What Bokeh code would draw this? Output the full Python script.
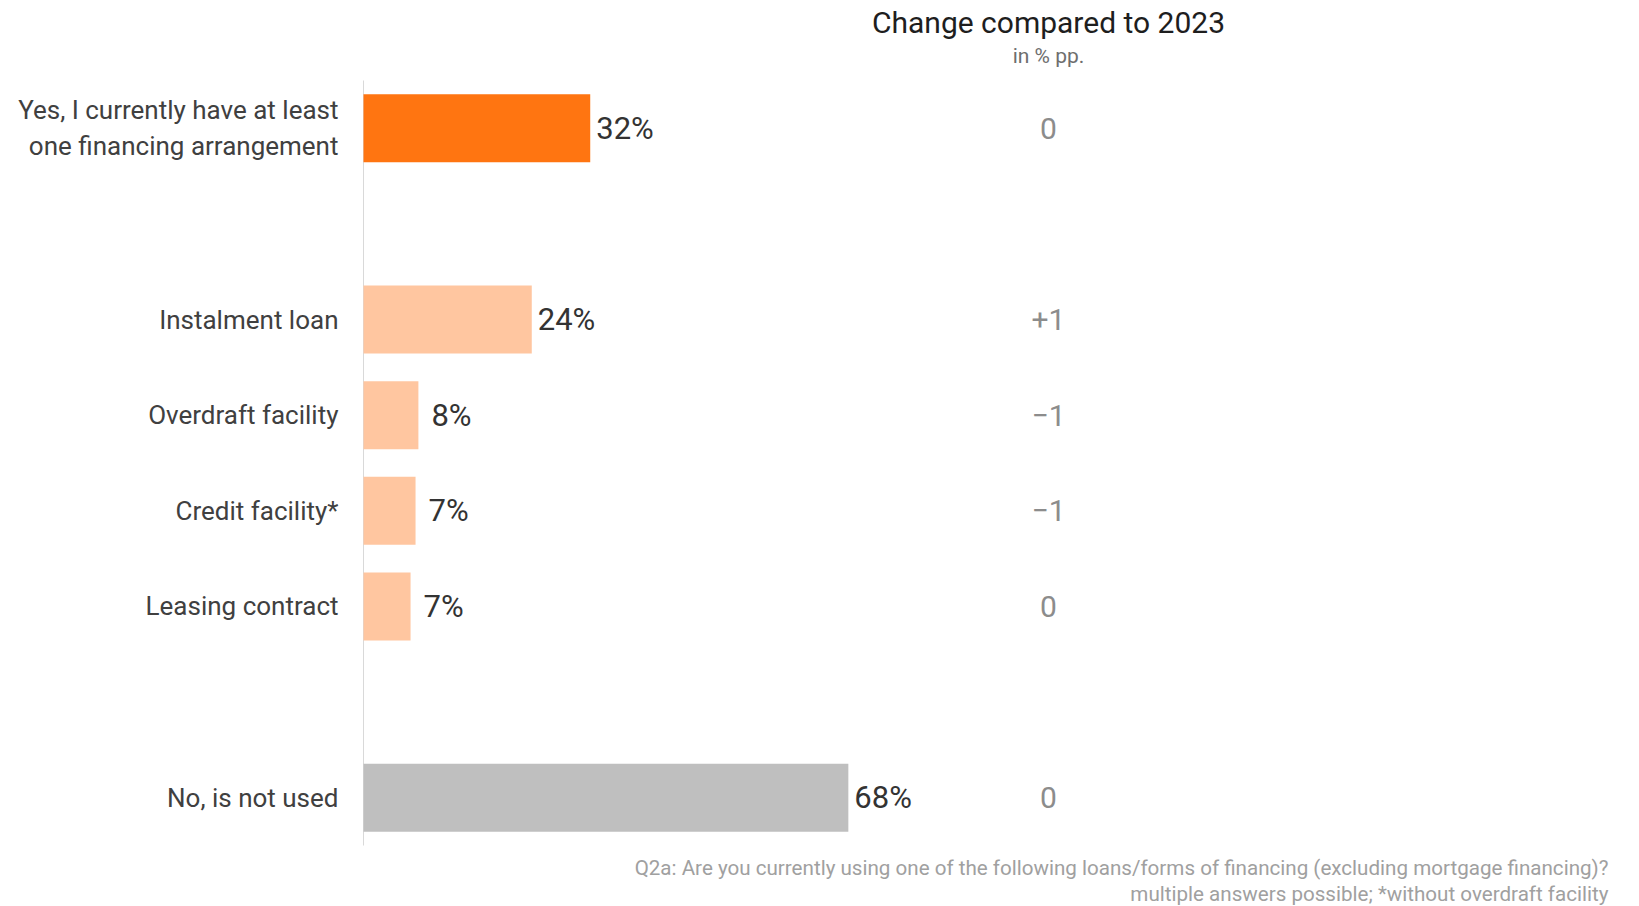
from bokeh.plotting import figure
from bokeh.models import Range1d, FixedTicker, ColumnDataSource
from bokeh.embed import file_html
from bokeh.resources import INLINE
from bokeh.core.properties import value

# ---------------- data ----------------
categories = [
    "Yes, I currently have at least\none financing arrangement",
    "Instalment loan",
    "Overdraft facility",
    "Credit facility*",
    "Leasing contract",
    "No, is not used",
]
groups = ["any", "types", "types", "types", "types", "none"]
shares = [31.8, 23.6, 7.7, 7.3, 6.6, 68.0]
share_labels = ["32%", "24%", "8%", "7%", "7%", "68%"]
changes = ["0", "+1", "\u22121", "\u22121", "0", "0"]

title_text = "Change compared to 2023"
subtitle_text = "in % pp."
note_lines = [
    "Q2a: Are you currently using one of the following loans/forms of financing (excluding mortgage financing)?",
    "multiple answers possible; *without overdraft facility",
]

# ---------------- styles / layout ----------------
bar_colors = ["#FF7511", "#FFC6A0", "#FFC6A0", "#FFC6A0", "#FFC6A0", "#BFBFBF"]
FONT = "Roboto"
W, H = 1639, 906
FRAME_LEFT, FRAME_RIGHT = 360, 1620       # plotting frame (full height)
ZERO_PX = 363                             # where the bars start
BARS_TOP, BARS_BOTTOM = 80, 845           # vertical extent of the bar area
PX_PER_PCT = 7.13
CHANGE_PX = 1048

positions = []
pos, prev = 0, None
for g in groups:
    if prev is not None:
        pos += 1 if g == prev else 2
    positions.append(pos)
    prev = g
n_slots = positions[-1] + 1
slot_px = (BARS_BOTTOM - BARS_TOP) / n_slots


def px2x(px):
    return (px - ZERO_PX) / PX_PER_PCT


def px2y(px):
    return -0.5 + (px - BARS_TOP) / slot_px


p = figure(
    width=W, height=H, output_backend="svg", toolbar_location=None,
    x_range=Range1d(px2x(FRAME_LEFT), px2x(FRAME_RIGHT)),
    y_range=Range1d(px2y(H), px2y(0)),
    x_axis_location=None,
    min_border_left=FRAME_LEFT, min_border_right=W - FRAME_RIGHT,
    min_border_top=0, min_border_bottom=0,
    title=None,
)
p.outline_line_color = None
p.grid.visible = False
p.background_fill_color = "white"
p.border_fill_color = "white"

yax = p.yaxis[0]
yax.ticker = FixedTicker(ticks=positions)
yax.major_label_overrides = {pp: c for pp, c in zip(positions, categories)}
yax.major_tick_line_color = None
yax.minor_tick_line_color = None
yax.major_tick_out = 0
yax.major_tick_in = 0
yax.major_label_standoff = 22
yax.axis_line_color = None
yax.major_label_text_font = FONT
yax.major_label_text_font_size = "26px"
yax.major_label_text_color = "#404040"

# category baseline (zero line) spanning the bar area
p.segment(x0=0, y0=-0.5, x1=0, y1=n_slots - 0.5, line_color="#D9D9D9", line_width=1)

offsets = [6 if v >= 10 else 13 for v in shares]
src = ColumnDataSource(dict(
    y=positions, right=shares, color=bar_colors,
    label=share_labels, change=changes, off=offsets,
))

p.hbar(y="y", left=0, right="right", height=0.71, source=src,
       fill_color="color", line_color=None)

p.text(x="right", y="y", text="label", x_offset="off", source=src,
       text_baseline="middle", text_align="left",
       text_font=value(FONT), text_font_size="31px", text_color="#333333")

p.text(x=px2x(CHANGE_PX), y="y", text="change", source=src,
       text_baseline="middle", text_align="center",
       text_font=value(FONT), text_font_size="30px", text_color="#8C8C8C")

# header over the change column
p.text(x=[px2x(CHANGE_PX)], y=[px2y(21.5)], text=[title_text],
       text_align="center", text_baseline="middle",
       text_font=value(FONT), text_font_size="30px", text_color="#1E1E1E")
p.text(x=[px2x(CHANGE_PX)], y=[px2y(55)], text=[subtitle_text],
       text_align="center", text_baseline="middle",
       text_font=value(FONT), text_font_size="21px", text_color="#6E6E6E")

# footnote, right aligned
p.text(x=[px2x(1608)] * len(note_lines), y=[px2y(867.6), px2y(893.7)], text=note_lines,
       text_align="right", text_baseline="middle",
       text_font=value(FONT), text_font_size="20.6px", text_color="#A0A0A0")

open("out.html", "w").write(file_html(p, INLINE))
